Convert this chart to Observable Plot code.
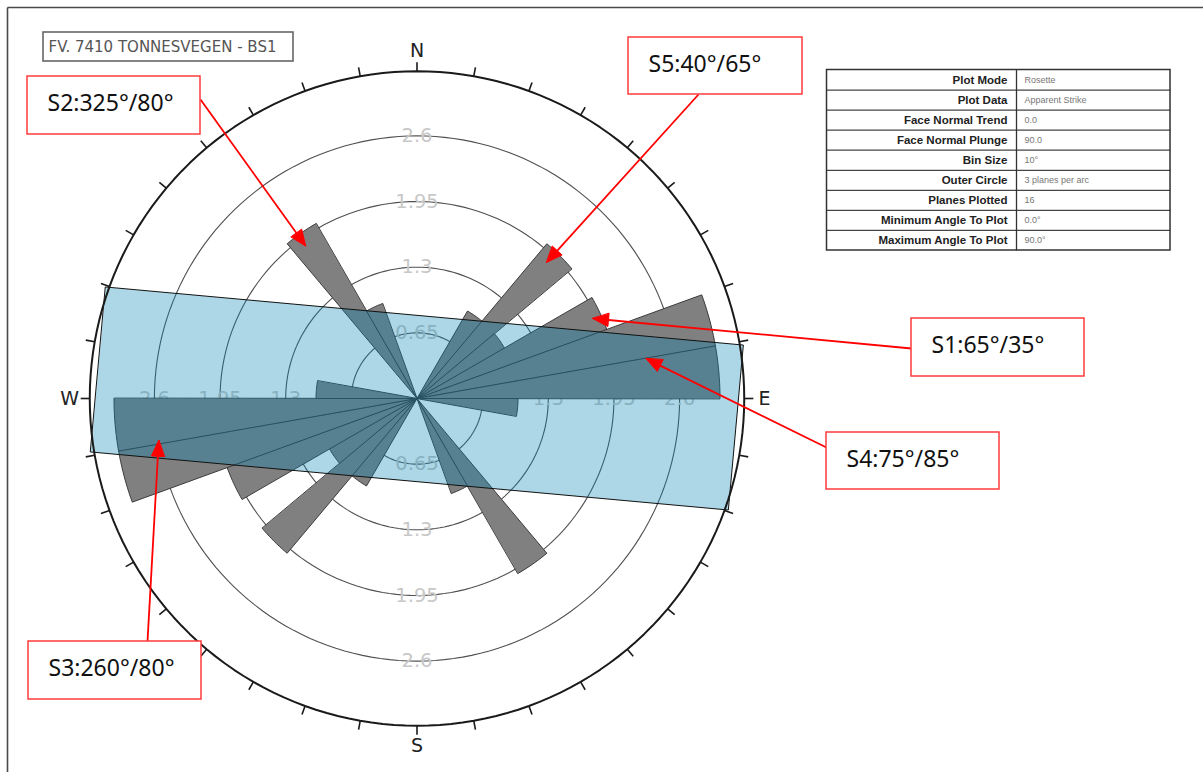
<!DOCTYPE html>
<html>
<head>
<meta charset="utf-8">
<script src="https://cdn.jsdelivr.net/npm/d3@7"></script>
<script src="https://cdn.jsdelivr.net/npm/@observablehq/plot@0.6"></script>
<style>
  html, body { margin: 0; padding: 0; background: #fff; }
  #chart { width: 1203px; height: 772px; overflow: hidden; }
</style>
</head>
<body>
<div id="chart"></div>
<script>
// Rosette of apparent strike, 10° bins; each bin is mirrored through 180°.
const binStart = [30, 40, 50, 60, 70, 80, 90, 140, 150];
const binCount = [1, 2, 1, 2, 3, 3, 1, 2, 1];
const binSize = 10;

// Concentric rings (planes per arc) and their labels
const ringValues = [0.65, 1.3, 1.95, 2.6];
const ringLabels = ["0.65", "1.3", "1.95", "2.6"];
const ringLabelAz = [0, 90, 180, 270];

// Compass
const compassLabels = ["N", "E", "S", "W"];
const compassAz = [0, 90, 180, 270];
const outerRadius = 3.24;

// Slope face band
const bandTrend = 95.2;
const bandHalfLength = 3.17;
const bandHalfWidth = 0.82;

// Discontinuity sets (strike/dip) pointing at their petals
const setLabels = ["S1:65°/35°", "S2:325°/80°", "S3:260°/80°", "S4:75°/85°", "S5:40°/65°"];
const setTipAz = [65.5, 323.9, 260.8, 80.1, 43.6];
const setTipR = [1.91, 1.87, 2.59, 2.30, 1.86];

// Settings table
const tableKeys = ["Plot Mode", "Plot Data", "Face Normal Trend", "Face Normal Plunge", "Bin Size",
  "Outer Circle", "Planes Plotted", "Minimum Angle To Plot", "Maximum Angle To Plot"];
const tableValues = ["Rosette", "Apparent Strike", "0.0", "90.0", "10°",
  "3 planes per arc", "16", "0.0°", "90.0°"];

const title = "FV. 7410 TONNESVEGEN - BS1";

// ---- page layout (pixels) ----
const W = 1203, H = 772;
const K = 101;               // pixels per plane
const CX = 416.5, CY = 398;  // centre of the rosette
const ux = px => (px - CX) / K;
const uy = py => (CY - py) / K;
const rad = d => d * Math.PI / 180;
const polar = (az, r) => [r * Math.sin(rad(az)), r * Math.cos(rad(az))];

const setBoxes = [ // left, top, width, height
  [911, 318, 173, 58],
  [27, 76, 173, 58],
  [28, 641, 173, 58],
  [826, 432, 173, 57],
  [628, 37, 174, 57]
];
const setTails = [[911, 348], [200, 99], [147, 641], [826, 447], [698, 94]];

const tableBox = {left: 826.5, top: 69.5, right: 1170, bottom: 250, split: 1016};

// ---- geometry built from the arrays ----
const petals = [];
binStart.forEach((s, i) => {
  for (const a0 of [s, s + 180]) {
    const id = "p" + a0;
    petals.push({id, x: 0, y: 0});
    for (let j = 0; j <= 10; j++) {
      const [x, y] = polar(a0 + binSize * j / 10, binCount[i]);
      petals.push({id, x, y});
    }
  }
});

const circlePts = (r, id) => d3.range(0, 361, 2).map(a => {
  const [x, y] = polar(a, r);
  return {id, x, y};
});
const rings = ringValues.flatMap((v, i) => circlePts(v, "r" + i));
const outer = circlePts(outerRadius, "outer");

const ringText = ringValues.flatMap((v, i) => ringLabelAz.map(az => {
  const [x, y] = polar(az, v);
  return {x, y, t: ringLabels[i]};
}));

const ticks = d3.range(0, 360, 10).map(az => {
  const [x1, y1] = polar(az, outerRadius);
  const [x2, y2] = polar(az, outerRadius + 0.09);
  return {x1, y1, x2, y2};
});

const compass = compassLabels.map((t, i) => {
  const [x, y] = polar(compassAz[i], 3.44);
  return {x, y, t};
});

const along = polar(bandTrend, 1), perp = polar(bandTrend - 90, 1);
const band = [[-1, 1], [1, 1], [1, -1], [-1, -1]].map(([a, p]) => ({
  x: a * bandHalfLength * along[0] + p * bandHalfWidth * perp[0],
  y: a * bandHalfLength * along[1] + p * bandHalfWidth * perp[1]
}));

// callout arrows
const arrowLines = [], arrowHeads = [];
setLabels.forEach((t, i) => {
  const [tx, ty] = polar(setTipAz[i], setTipR[i]);
  const px = ux(setTails[i][0]), py = uy(setTails[i][1]);
  const len = Math.hypot(tx - px, ty - py);
  const dx = (tx - px) / len, dy = (ty - py) / len;
  const hl = 16 / K, hw = 6.5 / K;
  const bx = tx - dx * hl, by = ty - dy * hl;
  arrowLines.push({x1: px, y1: py, x2: bx, y2: by});
  arrowHeads.push({id: i, x: tx, y: ty});
  arrowHeads.push({id: i, x: bx - dy * hw, y: by + dx * hw});
  arrowHeads.push({id: i, x: bx + dy * hw, y: by - dx * hw});
});
const boxes = setBoxes.map(([l, t, w, h], i) => ({
  x1: ux(l), x2: ux(l + w), y1: uy(t), y2: uy(t + h),
  tx: ux(l + 20), ty: uy(t + 27), label: setLabels[i]
}));

const rowH = (tableBox.bottom - tableBox.top) / tableKeys.length;
const rows = tableKeys.map((k, i) => ({
  k, v: tableValues[i],
  y: uy(tableBox.top + rowH * (i + 0.5)),
  yLine: uy(tableBox.top + rowH * i)
}));

const chart = Plot.plot({
  width: W, height: H, margin: 0,
  x: {domain: [ux(0), ux(W)], axis: null},
  y: {domain: [uy(H), uy(0)], axis: null},
  style: {background: "#fff", fontFamily: "DejaVu Sans"},
  marks: [
    // page frame
    Plot.link([{x1: ux(7), y1: uy(H + 5), x2: ux(7), y2: uy(7)}, {x1: ux(7), y1: uy(7), x2: ux(W + 5), y2: uy(7)}],
      {x1: "x1", y1: "y1", x2: "x2", y2: "y2", stroke: "#4a4a4a", strokeWidth: 1.6}),
    // rings
    Plot.line(rings, {x: "x", y: "y", z: "id", stroke: "#505050", strokeWidth: 1.1, curve: "linear-closed"}),
    Plot.text(ringText, {x: "x", y: "y", text: "t", fill: "#c8c8c8", fontSize: 19.5, fontFamily: "DejaVu Sans"}),
    // petals
    Plot.line(petals, {x: "x", y: "y", z: "id", fill: "#808080", stroke: "#3c3c3c", strokeWidth: 1, curve: "linear-closed"}),
    // slope face band
    Plot.line(band, {x: "x", y: "y", fill: "rgb(0,131,178)", fillOpacity: 0.32, stroke: "#111", strokeWidth: 1, curve: "linear-closed"}),
    // outer circle, ticks, compass letters
    Plot.line(outer, {x: "x", y: "y", stroke: "#1a1a1a", strokeWidth: 2, curve: "linear-closed"}),
    Plot.link(ticks, {x1: "x1", y1: "y1", x2: "x2", y2: "y2", stroke: "#1a1a1a", strokeWidth: 1.6}),
    Plot.text(compass, {x: "x", y: "y", text: "t", fill: "#222", fontSize: 19, fontFamily: "DejaVu Sans"}),
    // title
    Plot.rect([{x1: ux(43), x2: ux(293), y1: uy(32), y2: uy(61)}],
      {x1: "x1", x2: "x2", y1: "y1", y2: "y2", fill: "#fff", stroke: "#666", strokeWidth: 1.6}),
    Plot.text([title], {x: ux(48), y: uy(46.5), text: d => d, textAnchor: "start", fill: "#555", fontSize: 15, fontFamily: "DejaVu Sans"}),
    // settings table
    Plot.link(rows.slice(1), {x1: ux(tableBox.left), x2: ux(tableBox.right), y1: "yLine", y2: "yLine", stroke: "#444", strokeWidth: 1.3}),
    Plot.link([0], {x1: ux(tableBox.split), x2: ux(tableBox.split), y1: uy(tableBox.top), y2: uy(tableBox.bottom), stroke: "#333", strokeWidth: 1.3}),
    Plot.rect([0], {x1: ux(tableBox.left), x2: ux(tableBox.right), y1: uy(tableBox.top), y2: uy(tableBox.bottom), fill: "none", stroke: "#333", strokeWidth: 1.5}),
    Plot.text(rows, {x: ux(tableBox.split - 9), y: "y", text: "k", textAnchor: "end", fontWeight: "bold", fontSize: 11.5, fill: "#222", fontFamily: "Liberation Sans"}),
    Plot.text(rows, {x: ux(tableBox.split + 8), y: "y", text: "v", textAnchor: "start", fontSize: 9, fill: "#777", fontFamily: "Liberation Sans"}),
    // callouts
    Plot.link(arrowLines, {x1: "x1", y1: "y1", x2: "x2", y2: "y2", stroke: "#ff0000", strokeWidth: 1.8}),
    Plot.line(arrowHeads, {x: "x", y: "y", z: "id", fill: "#ff0000", stroke: "#ff0000", strokeWidth: 1, curve: "linear-closed"}),
    Plot.rect(boxes, {x1: "x1", x2: "x2", y1: "y1", y2: "y2", fill: "#fff", stroke: "#ff3b3b", strokeWidth: 1.5}),
    Plot.text(boxes, {x: "tx", y: "ty", text: "label", textAnchor: "start", fill: "#111", fontSize: 23, fontFamily: "Noto Sans"})
  ]
});
document.getElementById("chart").append(chart);
</script>
</body>
</html>
